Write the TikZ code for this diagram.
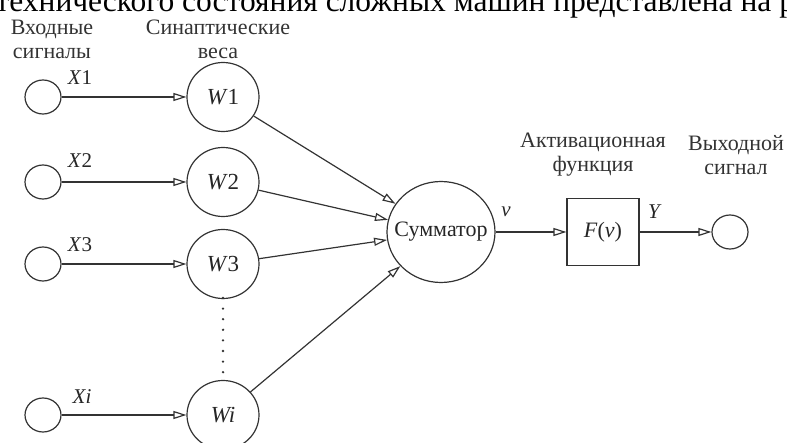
\documentclass[tikz,border=0pt]{standalone}
\usepackage{fontspec}
\setmainfont{Liberation Serif}
\usetikzlibrary{arrows.meta,shapes.geometric}
\begin{document}
\begin{tikzpicture}[x=1pt,y=-1pt,
  line width=1.2pt,
  inp/.style={draw=black!80, ellipse, minimum width=36pt, minimum height=34pt, inner sep=0pt},
  wt/.style={draw=black!80, ellipse, minimum width=72pt, minimum height=69pt, inner sep=0pt, font=\fontsize{23}{25}\selectfont, text=black!85},
  lbl/.style={font=\fontsize{22}{24}\selectfont, align=center, text=black!80},
  sm/.style={font=\fontsize{21}{23}\selectfont, text=black!85},
  arr/.style={draw=black!80, -{Triangle[open,length=13pt,width=8pt]}}]
\useasboundingbox (0,0) rectangle (787,443);
\clip (0,0) rectangle (787,443);
\node[anchor=base west, font=\fontsize{31.5}{32}\selectfont, inner sep=0pt] (top) at (-5,12) {технического состояния сложных машин представлена на р};
% headings
\node[lbl] (h1) at (52,39) {Входные\\сигналы};
\node[lbl] (h2) at (218,39) {Синаптические\\веса};
\node[lbl] (h3) at (593,155) {Активационная\\функция};
\node[lbl] (h4) at (736,155) {Выходной\\сигнал};
% inputs
\node[inp] (x1) at (43,97) {};
\node[inp] (x2) at (43,182) {};
\node[inp] (x3) at (43,264) {};
\node[inp] (xi) at (43,415) {};
% weights
\node[wt] (w1) at (223,97) {\textit{W}1};
\node[wt] (w2) at (223,182) {\textit{W}2};
\node[wt] (w3) at (223,264) {\textit{W}3};
\node[wt] (wi) at (223,415) {\textit{Wi}};
% summator
\node[draw=black!80, ellipse, minimum width=108pt, minimum height=101pt, inner sep=0pt, font=\fontsize{22}{24}\selectfont, text=black!85] (sum) at (441,232) {\makebox[0pt]{Сумматор}};
% activation box
\node[draw=black!80, rectangle, minimum width=72pt, minimum height=67pt, inner sep=0pt, font=\fontsize{22}{24}\selectfont, text=black!85] (f) at (603,232) {\textit{F}(\textit{v})};
% output
\node[inp] (out) at (730,232) {};
% input labels
\node[sm] (lx1) at (80,78) {\textit{X}1};
\node[sm] (lx2) at (80,161) {\textit{X}2};
\node[sm] (lx3) at (80,245) {\textit{X}3};
\node[sm] (lxi) at (82,397) {\textit{Xi}};
\node[sm] (lv) at (506,212) {\textit{v}};
\node[sm] (ly) at (655,212) {\textit{Y}};
% connectors
\draw[arr] (x1) -- (w1);
\draw[arr] (x2) -- (w2);
\draw[arr] (x3) -- (w3);
\draw[arr] (xi) -- (wi);
\draw[arr] (w1) -- (sum);
\draw[arr] (w2) -- (sum);
\draw[arr] (w3) -- (sum);
\draw[arr] (wi) -- (sum);
\draw[arr] (sum) -- (f);
\draw[arr] (f) -- (out);
% dots
\foreach \k in {0,...,7} {
  \fill[black!80] (223,{298+\k*10.6}) circle (1.3pt);
}
\end{tikzpicture}
\end{document}
